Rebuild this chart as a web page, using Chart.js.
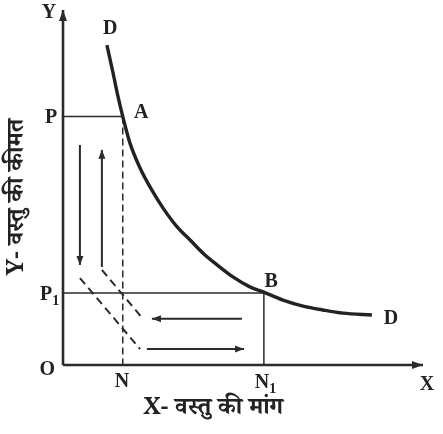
<!DOCTYPE html>
<html>
<head>
<meta charset="utf-8">
<script src="https://cdn.jsdelivr.net/npm/chart.js@4"></script>
<style>
html,body{margin:0;padding:0;background:#fff;}
canvas{display:block;}
</style>
</head>
<body>
<canvas id="c" width="443" height="434"></canvas>
<script>
// Demand curve D-D
const curveX = [1.22, 1.39, 1.53, 1.67, 1.86, 2.14, 2.42, 2.78, 3.17, 3.53, 3.89, 4.28, 4.72, 5.19, 5.56, 6.11, 6.67, 7.22, 7.78, 8.58];
const curveY = [9.01, 8.23, 7.55, 6.96, 6.25, 5.55, 5.01, 4.42, 3.89, 3.52, 3.15, 2.82, 2.48, 2.20, 2.06, 1.83, 1.66, 1.55, 1.46, 1.41];
// Points A and B
const pointA = {x: 1.66, y: 7.0};
const pointB = {x: 5.58, y: 2.03};
// Dashed diagonal lines
const diag1X = [0.47, 2.14];
const diag1Y = [2.45, 0.45];
const diag2X = [1.08, 2.22];
const diag2Y = [2.68, 1.30];
// Movement arrows (start -> tip)
const arrowDownX = [0.47, 0.47];
const arrowDownY = [6.2, 2.82];
const arrowUpX = [1.08, 1.08];
const arrowUpY = [2.76, 6.06];
const arrowLeftX = [4.97, 2.47];
const arrowLeftY = [1.30, 1.30];
const arrowRightX = [2.33, 5.03];
const arrowRightY = [0.45, 0.45];
// Text labels
const labelText = ['Y', 'D', 'P', 'A', 'P', 'O', 'N', 'N', 'X', 'D', 'B'];
const labelSub  = ['', '', '', '', '1', '', '', '1', '', '', ''];
const labelX = [-0.39, 1.31, -0.33, 2.17, -0.47, -0.44, 1.64, 5.53, 10.11, 9.11, 5.78];
const labelY = [9.92, 9.46, 6.96, 7.10, 1.97, -0.14, -0.48, -0.51, -0.56, 1.30, 2.34];
const xTitle = 'X- वस्तु की मांग';
const yTitle = 'Y- वस्तु की कीमत';

const pts = (xs, ys) => xs.map((x, i) => ({x: x, y: ys[i]}));
const ink = '#2b2b2b';

function line(data, opts) {
  return Object.assign({
    data: data, showLine: true, pointRadius: 0, borderColor: ink,
    borderWidth: 1.5, fill: false, clip: false, tension: 0
  }, opts || {});
}

const datasets = [
  line([{x: 0, y: 0}, {x: 10, y: 0}], {borderWidth: 2.6, arrow: 'axis'}),
  line([{x: 0, y: 0}, {x: 0, y: 10}], {borderWidth: 2.6, arrow: 'axis'}),
  line(pts(curveX, curveY), {borderWidth: 3.4, borderColor: '#222', cubicInterpolationMode: 'monotone'}),
  line([{x: 0, y: pointA.y}, {x: pointA.x, y: pointA.y}]),
  line([{x: 0, y: pointB.y}, {x: pointB.x, y: pointB.y}]),
  line([{x: pointB.x, y: pointB.y}, {x: pointB.x, y: 0}]),
  line([{x: pointA.x, y: pointA.y}, {x: pointA.x, y: 0}], {borderDash: [7, 4]}),
  line(pts(diag1X, diag1Y), {borderWidth: 2, borderDash: [8, 5]}),
  line(pts(diag2X, diag2Y), {borderWidth: 2, borderDash: [8, 5]}),
  line(pts(arrowDownX, arrowDownY), {borderWidth: 2, arrow: 'small'}),
  line(pts(arrowUpX, arrowUpY), {borderWidth: 2, arrow: 'small'}),
  line(pts(arrowLeftX, arrowLeftY), {borderWidth: 2, arrow: 'small'}),
  line(pts(arrowRightX, arrowRightY), {borderWidth: 2, arrow: 'small'})
];

const decor = {
  id: 'decor',
  afterDatasetsDraw(chart) {
    const ctx = chart.ctx, xs = chart.scales.x, ys = chart.scales.y;
    ctx.save();
    // arrowheads
    chart.data.datasets.forEach(ds => {
      if (!ds.arrow) return;
      const n = ds.data.length;
      const p1 = ds.data[n - 2], p2 = ds.data[n - 1];
      const x1 = xs.getPixelForValue(p1.x), y1 = ys.getPixelForValue(p1.y);
      const x2 = xs.getPixelForValue(p2.x), y2 = ys.getPixelForValue(p2.y);
      const a = Math.atan2(y2 - y1, x2 - x1);
      const L = ds.arrow === 'axis' ? 11 : 9;
      const W = ds.arrow === 'axis' ? 4 : 3.5;
      ctx.fillStyle = ink;
      ctx.beginPath();
      ctx.moveTo(x2, y2);
      ctx.lineTo(x2 - L * Math.cos(a) + W * Math.sin(a), y2 - L * Math.sin(a) - W * Math.cos(a));
      ctx.lineTo(x2 - L * Math.cos(a) - W * Math.sin(a), y2 - L * Math.sin(a) + W * Math.cos(a));
      ctx.closePath();
      ctx.fill();
    });
    // labels
    ctx.fillStyle = '#222';
    ctx.textBaseline = 'middle';
    labelText.forEach((t, i) => {
      const px = xs.getPixelForValue(labelX[i]), py = ys.getPixelForValue(labelY[i]);
      ctx.font = 'bold 20px "Liberation Serif", "DejaVu Serif", serif';
      ctx.textAlign = 'center';
      ctx.fillText(t, px, py);
      if (labelSub[i]) {
        const w = ctx.measureText(t).width;
        ctx.font = 'bold 14px "Liberation Serif", "DejaVu Serif", serif';
        ctx.textAlign = 'left';
        ctx.fillText(labelSub[i], px + w / 2, py + 6);
      }
    });
    // axis titles
    const hindiFont = 'bold 24px "Noto Serif Devanagari", "Noto Sans Devanagari", "Lohit Devanagari", "FreeSerif", "Liberation Serif", serif';
    ctx.font = hindiFont;
    ctx.textAlign = 'center';
    ctx.fillText(xTitle, xs.getPixelForValue(4.17), ys.getPixelForValue(-1.30));
    ctx.translate(xs.getPixelForValue(-1.18), ys.getPixelForValue(4.73));
    ctx.rotate(-Math.PI / 2);
    ctx.fillText(yTitle, 0, 0);
    ctx.restore();
  }
};

new Chart(document.getElementById('c'), {
  type: 'scatter',
  data: {datasets: datasets},
  options: {
    responsive: false,
    animation: false,
    devicePixelRatio: 1,
    layout: {padding: {left: 63, right: 20, top: 10, bottom: 69}},
    scales: {
      x: {type: 'linear', min: 0, max: 10, display: false},
      y: {type: 'linear', min: 0, max: 10, display: false}
    },
    plugins: {legend: {display: false}, tooltip: {enabled: false}}
  },
  plugins: [decor]
});
</script>
</body>
</html>
